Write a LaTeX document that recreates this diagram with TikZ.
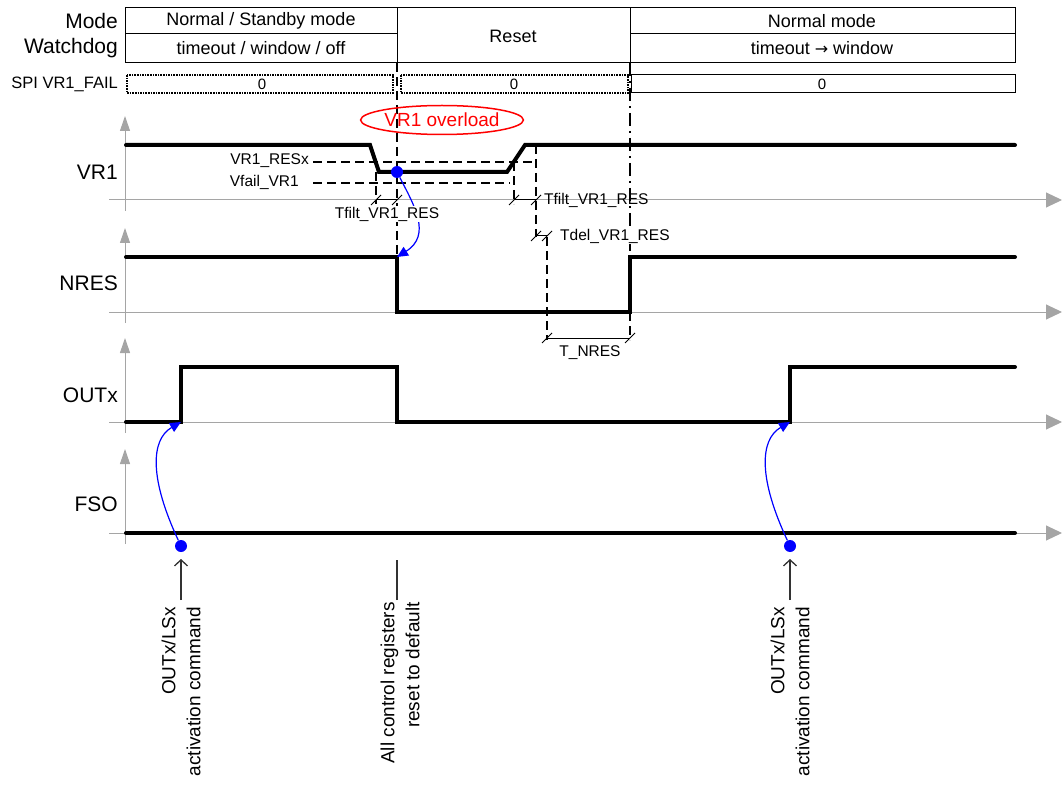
\documentclass[tikz,border=0pt]{standalone}
\usepackage{fontspec}
\setmainfont{Liberation Sans}
\newfontfamily\djv{DejaVu Sans}
\usetikzlibrary{arrows.meta,shapes.geometric}
\definecolor{axgray}{RGB}{165,165,165}
\definecolor{pblue}{RGB}{0,0,255}
\definecolor{pred}{RGB}{255,0,0}
\begin{document}
\begin{tikzpicture}[x=1pt,y=-1pt,
  cell/.style={draw, line width=1pt},
  dotbox/.style={draw, line width=1.6pt, dash pattern=on 1.6pt off 1pt},
  solbox/.style={draw, line width=1pt},
  sig/.style={line width=4pt, line cap=round, line join=miter},
  axisH/.style={draw=axgray, line width=1pt, -{Triangle[length=16pt,width=15pt]}},
  axisV/.style={draw=axgray, line width=1pt, -{Triangle[length=15pt,width=10pt]}},
  dsh/.style={line width=2.8pt, dash pattern=on 9pt off 5pt},
  dshdot/.style={line width=2.8pt, dash pattern=on 13pt off 5pt on 2pt off 5pt},
  dim/.style={line width=1pt},
  blu/.style={draw=pblue, line width=1.2pt, -{Triangle[length=11pt,width=10pt]}},
  bdot/.style={circle, fill=pblue, inner sep=0pt, minimum size=12pt},
  pointer/.style={draw=black!80, line width=1.3pt, -{Straight Barb[length=6pt,width=13pt]}},
  hdr/.style={font=\fontsize{21}{25}\selectfont, anchor=east, inner sep=0pt},
  tbl/.style={font=\fontsize{18}{22}\selectfont, inner sep=0pt},
  spi/.style={font=\fontsize{15}{18}\selectfont, inner sep=0pt},
  slab/.style={font=\fontsize{21}{25}\selectfont, anchor=east, inner sep=0pt},
  ann/.style={font=\fontsize{15.5}{18}\selectfont, inner sep=0pt},
  cmd/.style={font=\fontsize{19}{25}\selectfont, rotate=90, anchor=east, align=right, inner sep=0pt},
]
\useasboundingbox (0,0) rectangle (1062,786);

% ---------- header table ----------
\draw[cell] (125,8) rectangle (397,34);
\draw[cell] (125,34) rectangle (397,63);
\draw[cell] (397,8) rectangle (630,63);
\draw[cell] (630,8) rectangle (1015,34);
\draw[cell] (630,34) rectangle (1015,63);
\node[hdr] (mode) at (118,21) {Mode};
\node[hdr] (wd) at (118,48) {Watchdog};
\node[tbl] (m1) at (261,21) {Normal / Standby mode};
\node[tbl] (w1) at (261,48) {timeout / window / off};
\node[tbl] (rst) at (513,36) {Reset};
\node[tbl] (m3) at (822,21) {Normal mode};
\node[tbl] (w3) at (822,48) {timeout {\djv\fontsize{16}{20}\selectfont →} window};

% ---------- SPI row ----------
\node[spi, anchor=east, font=\fontsize{16.5}{20}\selectfont] (spil) at (118,84) {SPI VR1\_FAIL};
\draw[dotbox] (127,75) rectangle (393,93);
\draw[dotbox] (401,75) rectangle (628,93);
\draw[solbox] (631,75) rectangle (1015,93);
\node[spi] (s1) at (262,84) {0};
\node[spi] (s2) at (514,84) {0};
\node[spi] (s3) at (822,84) {0};

% ---------- axes ----------
\foreach \y in {200,312,422,533} {
  \draw[axisH] (109,\y) -- (1062,\y);
  \draw[axisV] (125,\y+11) -- (125,\y-84);
}

% ---------- signal labels ----------
\node[slab] (lvr1) at (118,172) {VR1};
\node[slab] (lnres) at (118,283) {NRES};
\node[slab] (lout) at (118,395) {OUTx};
\node[slab] (lfso) at (118,504) {FSO};

% ---------- key coordinates ----------
\coordinate (r0) at (397,63);
\coordinate (n0) at (630,63);
\coordinate (nfall) at (397,257);
\coordinate (nrise) at (630,257);
\coordinate (outup1) at (181,422);
\coordinate (outup2) at (790,422);

% ---------- VR1 thresholds (dashed) ----------
\node[ann, anchor=east] (tres) at (309,161) {VR1\_RESx};
\node[ann, anchor=east] (tfail) at (299,182) {Vfail\_VR1};
\draw[dsh] (313,162) -- (536,162);
\draw[dsh] (536,145) -- (536,237);
\draw[dsh] (313,183) -- (510,183);
\draw[dsh] (376,172) -- (376,204);
\draw[dsh] (514,162) -- (514,204);
\draw[dsh] (547,237) -- (547,340);
\draw[dsh] (630,312) -- (630,340);

% ---------- signals ----------
\draw[sig] (126,145) -- (370,145) -- (379,172) -- (507,172) -- (525,145) -- (1015,145);
\draw[sig] (126,257) -- (nfall) -- (397,312) -- (630,312) -- (nrise) -- (1015,257);
\draw[sig] (126,422) -- (outup1) -- (181,367) -- (397,367) -- (397,422) -- (outup2) -- (790,367) -- (1015,367);
\draw[sig] (126,533) -- (1015,533);

% ---------- VR1 overload event ----------
\draw[dsh] (r0) -- (nfall);
\draw[dshdot] (n0) -- (nrise);
\node[bdot] (ev) at (397,172) {};
\draw[blu] (ev) .. controls (414,205) and (432,235) .. (nfall);
\node[ann, fill=white, inner sep=1pt] (tf1) at (387,214) {Tfilt\_VR1\_RES};
\node[ellipse, draw=pred, line width=1.5pt, text=pred, minimum width=147pt, minimum height=29pt, inner sep=0pt,
      font=\fontsize{19}{22}\selectfont] (ovl) at (442,120) {VR1 overload};

% ---------- dimension markers ----------
\draw[dim] (376,200) -- (397,200);
\draw[dim] (371,205) -- (381,195);
\draw[dim] (392,205) -- (402,195);
\draw[dim] (514,200) -- (536,200);
\draw[dim] (509,205) -- (519,195);
\draw[dim] (531,205) -- (541,195);
\node[ann, anchor=west] (tf2) at (544,200) {Tfilt\_VR1\_RES};
\draw[dim] (536,236) -- (547,236);
\draw[dim] (531,241) -- (541,231);
\draw[dim] (542,241) -- (552,231);
\node[ann, anchor=west, fill=white, inner sep=1pt] (tdel) at (559,236) {Tdel\_VR1\_RES};
\draw[dim] (547,338) -- (630,338);
\draw[dim] (542,343) -- (552,333);
\draw[dim] (625,343) -- (635,333);
\node[ann] (tnres) at (590,353) {T\_NRES};

% ---------- activation commands ----------
\node[bdot] (c1) at (181,546) {};
\node[bdot] (c2) at (790,546) {};
\draw[blu] (c1) .. controls (150,480) and (150,440) .. (outup1);
\draw[blu] (c2) .. controls (759,480) and (759,440) .. (outup2);

\coordinate (p1) at (181,600);
\coordinate (p2) at (790,600);
\coordinate (p3a) at (397,600);
\coordinate (p3b) at (397,560);
\draw[pointer] (p1) -- (181,559);
\draw[pointer] (p2) -- (790,559);
\draw[draw=black!80, line width=1.3pt] (p3a) -- (p3b);
\node[cmd] (t1) at (181,607) {OUTx/LSx\\activation command};
\node[cmd] (t2) at (790,607) {OUTx/LSx\\activation command};
\node[cmd] (t3) at (400,602) {All control registers\\reset to default};
\end{tikzpicture}
\end{document}
